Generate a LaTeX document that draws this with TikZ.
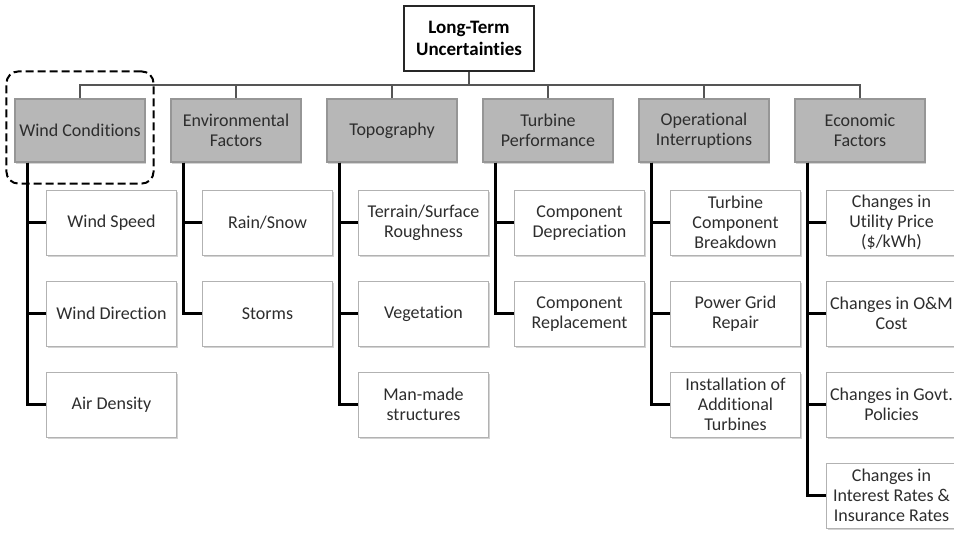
\documentclass[tikz,border=0pt]{standalone}
\usepackage{fontspec}
\setmainfont{Carlito}[Ligatures={NoCommon}]
\usetikzlibrary{positioning,fit,shadows,calc}
\definecolor{catcol}{RGB}{183,183,183}
\definecolor{catline}{RGB}{150,150,150}
\definecolor{subline}{RGB}{178,178,178}
\definecolor{txtcol}{RGB}{45,45,45}
\definecolor{buscol}{RGB}{85,85,85}
\tikzset{
  rootbox/.style = {rectangle, draw=black!85, line width=1pt, fill=white,
                    align=center, minimum width=65pt, minimum height=32.5pt,
                    inner sep=2pt, font=\fontsize{9.5pt}{11pt}\selectfont\bfseries},
  cat/.style     = {rectangle, draw=catline, line width=0.6pt, fill=catcol,
                    text=txtcol, align=center, minimum width=65pt,
                    minimum height=31.5pt, inner sep=1pt,
                    font=\fontsize{9pt}{10pt}\selectfont,
                    drop shadow={shadow xshift=0.6pt, shadow yshift=-0.9pt, opacity=.35}},
  sub/.style     = {rectangle, draw=subline, line width=0.6pt, fill=white,
                    text=txtcol, align=center, minimum width=65pt,
                    minimum height=32.5pt, inner sep=1pt,
                    font=\fontsize{9pt}{10pt}\selectfont,
                    drop shadow={shadow xshift=0.6pt, shadow yshift=-0.9pt, opacity=.35}},
  busline/.style = {draw=buscol, line width=1pt},
  spine/.style   = {draw=black, line width=1.3pt},
  focus/.style   = {draw=black, line width=1pt, dash pattern=on 4pt off 2pt,
                    rounded corners=6pt},
}

\begin{document}
\begin{tikzpicture}[node distance=12.4pt]
  \useasboundingbox (0,0) rectangle (477pt,-266pt);

  \node[rootbox] (root) at (234.5pt,-19.25pt) {Long-Term\\ Uncertainties};

  % the six groups
  \node[cat] (wc) at (40pt,-65.25pt) {Wind Conditions};
  \node[cat, right=of wc] (ef) {Environmental\\ Factors};
  \node[cat, right=of ef] (tp) {Topography};
  \node[cat, right=of tp] (tpf) {Turbine\\ Performance};
  \node[cat, right=of tpf] (oi) {Operational\\ Interruptions};
  \node[cat, right=of oi] (ecf) {Economic\\ Factors};

  \foreach \c in {wc, ef, tp, tpf, oi, ecf}
    \draw[busline] (root.south) -- ++(0,-6.5pt) -| (\c.north);

  % items under each group
  \node[sub, below=13.5pt of wc, xshift=15.75pt] (ws) {Wind Speed};
  \node[sub, below=of ws] (wd) {Wind Direction};
  \node[sub, below=of wd] (ad) {Air Density};

  \node[sub, below=13.5pt of ef, xshift=15.75pt] (rs) {Rain/Snow};
  \node[sub, below=of rs] (st) {Storms};

  \node[sub, below=13.5pt of tp, xshift=15.75pt] (tr) {Terrain/Surface\\ Roughness};
  \node[sub, below=of tr] (vg) {Vegetation};
  \node[sub, below=of vg] (mm) {Man-made\\ structures};

  \node[sub, below=13.5pt of tpf, xshift=15.75pt] (cd) {Component\\ Depreciation};
  \node[sub, below=of cd] (cr) {Component\\ Replacement};

  \node[sub, below=13.5pt of oi, xshift=15.75pt] (tb) {Turbine\\ Component\\ Breakdown};
  \node[sub, below=of tb] (pg) {Power Grid\\ Repair};
  \node[sub, below=of pg] (it) {Installation of\\ Additional\\ Turbines};

  \node[sub, below=13.5pt of ecf, xshift=15.75pt] (up) {Changes in\\ Utility Price\\ (\$/kWh)};
  \node[sub, below=of up] (om) {Changes in O\&M\\ Cost};
  \node[sub, below=of om] (gp) {Changes in Govt.\\ Policies};
  \node[sub, below=of gp] (ir) {Changes in\\ Interest Rates \&\\ Insurance Rates};

  \foreach \c/\s in {wc/ws, wc/wd, wc/ad, ef/rs, ef/st, tp/tr, tp/vg, tp/mm,
                     tpf/cd, tpf/cr, oi/tb, oi/pg, oi/it,
                     ecf/up, ecf/om, ecf/gp, ecf/ir}
    \draw[spine] ($(\c.south west)+(6.5pt,0)$) |- (\s.west);

  \node[focus, fit=(wc), inner xsep=4pt, inner ysep=12pt, yshift=1.5pt] (sel) {};
\end{tikzpicture}
\end{document}
